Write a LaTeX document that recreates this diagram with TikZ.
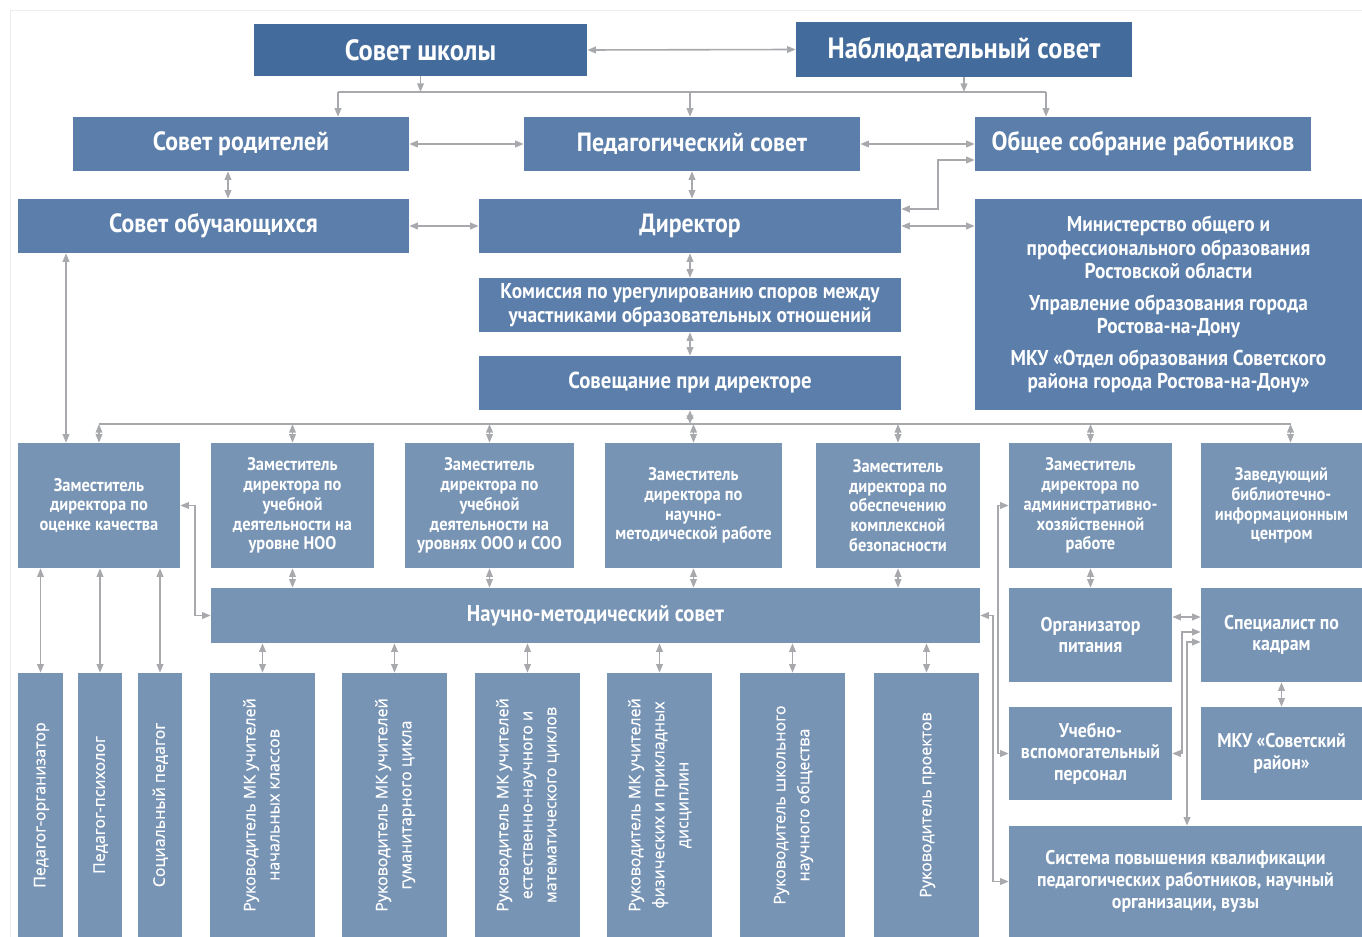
\documentclass[tikz,border=0pt]{standalone}
\usepackage{fontspec}
\setmainfont{PT Sans}[FakeStretch=0.9]
\newfontfamily\vertfont{Open Sans}[FakeBold=0.7]
\usepackage{tikz}
\usetikzlibrary{arrows.meta}
\definecolor{darkblue}{RGB}{67,107,156}
\definecolor{midblue}{RGB}{91,126,171}
\definecolor{lightblue}{RGB}{119,148,181}
\definecolor{linegray}{RGB}{167,169,172}
\tikzset{box/.style={fill=#1,inner sep=0pt,text=white,align=center},
         box/.default=midblue,
         topbox/.style={box=darkblue,font=\fontsize{22}{26}\selectfont\bfseries},
         mainbox/.style={box=midblue,font=\fontsize{19.8}{24}\selectfont\bfseries},
         subbox/.style={box=midblue,font=\fontsize{16.1}{17.6}\selectfont\bfseries},
         zambox/.style={box=lightblue,font=\fontsize{13.7}{14.9}\selectfont\bfseries},
         staffbox/.style={box=lightblue,font=\fontsize{14.9}{16.2}\selectfont\bfseries},
         vbox/.style={box=lightblue,font=\vertfont\fontsize{12}{18}\selectfont},
         link/.style={draw=linegray,line width=1.2pt}}
\newcommand\vlabel[1]{\rotatebox{90}{\begin{tabular}{@{}c@{}}#1\end{tabular}}}
\newcommand\orgbox[7][box]{\node[#1,minimum width={(#5-#3)*0.75pt},minimum height={(#6-#4)*0.75pt}] (#2) at ({(#3+#5)/2},{(#4+#6)/2}) {#7};}

\begin{document}
\begin{tikzpicture}[x=0.75pt,y=-0.75pt,>={Triangle[length=6.5pt,width=5pt]}]
\useasboundingbox (0,0) rectangle (1362,937);
\draw[black!7] (10,10) -- (1362,10) (10,10) -- (10,937);

\orgbox[topbox]{school}{254}{24}{587}{76}{Совет школы}
\orgbox[topbox]{watch}{796}{22}{1132}{77}{Наблюдательный совет}
\orgbox[mainbox]{parents}{73}{117}{409}{171}{Совет родителей}
\orgbox[mainbox]{ped}{524}{117}{860}{171}{Педагогический совет}
\orgbox[mainbox]{staff}{975}{117}{1311}{171}{Общее собрание работников}
\orgbox[mainbox]{pupils}{18}{199}{409}{253}{Совет обучающихся}
\orgbox[mainbox]{dir}{479}{199}{901}{253}{Директор}
\orgbox[subbox]{gov}{975}{199}{1362}{410}{Министерство общего и\\профессионального образования\\Ростовской области\\[6pt]Управление образования города\\Ростова-на-Дону\\[6pt]МКУ «Отдел образования Советского\\района города Ростова-на-Дону»}
\orgbox[subbox]{disp}{479}{278}{901}{332}{Комиссия по урегулированию споров между\\участниками образовательных отношений}
\orgbox[subbox,font=\fontsize{17.3}{20}\selectfont\bfseries]{meet}{479}{356}{901}{410}{Совещание при директоре}

\orgbox[zambox]{zq}{18}{443}{180}{568}{Заместитель\\директора по\\оценке качества}
\orgbox[zambox]{znoo}{211}{443}{374}{568}{Заместитель\\директора по\\учебной\\деятельности на\\уровне НОО}
\orgbox[zambox]{zooo}{405}{443}{574}{568}{Заместитель\\директора по\\учебной\\деятельности на\\уровнях ООО и СОО}
\orgbox[zambox]{zsci}{605}{443}{782}{568}{Заместитель\\директора по\\научно-\\методической работе}
\orgbox[zambox]{zsafe}{816}{443}{980}{568}{Заместитель\\директора по\\обеспечению\\комплексной\\безопасности}
\orgbox[zambox]{zahr}{1009}{443}{1172}{568}{Заместитель\\директора по\\административно-\\хозяйственной\\работе}
\orgbox[zambox]{zlib}{1201}{443}{1362}{568}{Заведующий\\библиотечно-\\информационным\\центром}

\orgbox[subbox,box=lightblue,font=\fontsize{17.2}{20}\selectfont\bfseries]{nms}{211}{588}{980}{643}{Научно-методический совет}
\orgbox[staffbox]{food}{1009}{588}{1172}{682}{Организатор\\питания}
\orgbox[staffbox]{hr}{1201}{588}{1362}{682}{Специалист по\\кадрам}
\orgbox[staffbox]{aux}{1009}{707}{1172}{800}{Учебно-\\вспомогательный\\персонал}
\orgbox[staffbox]{mku}{1201}{707}{1362}{800}{МКУ «Советский\\район»}
\orgbox[staffbox]{qual}{1009}{826}{1362}{937}{Система повышения квалификации\\педагогических работников, научный\\организации, вузы}

\orgbox[vbox]{porg}{18}{673}{63}{937}{\vlabel{Педагог-организатор}}
\orgbox[vbox]{psy}{78}{673}{122}{937}{\vlabel{Педагог-психолог}}
\orgbox[vbox]{soc}{138}{673}{182}{937}{\vlabel{Социальный педагог}}
\orgbox[vbox]{mk1}{210}{673}{315}{937}{\vlabel{Руководитель МК учителей\\начальных классов}}
\orgbox[vbox]{mk2}{342}{673}{447}{937}{\vlabel{Руководитель МК учителей\\гуманитарного цикла}}
\orgbox[vbox]{mk3}{475}{673}{580}{937}{\vlabel{Руководитель МК учителей\\естественно-научного и\\математического циклов}}
\orgbox[vbox]{mk4}{607}{673}{712}{937}{\vlabel{Руководитель МК учителей\\физических и прикладных\\дисциплин}}
\orgbox[vbox]{nso}{740}{673}{845}{937}{\vlabel{Руководитель школьного\\научного общества}}
\orgbox[vbox]{proj}{874}{673}{979}{937}{\vlabel{Руководитель проектов}}

\coordinate (topbus) at (690,92);
\coordinate (busL) at (338,92);
\coordinate (busR) at (1046,92);
\coordinate (bus) at (690,424);
\coordinate (c1) at (228,0);
\coordinate (c2) at (66,0);
\coordinate (k1) at (938,209);
\coordinate (k2) at (938,160);
\coordinate (k3) at (195,560);
\coordinate (k4) at (998,620);
\coordinate (k5) at (993,750);
\coordinate (k6) at (1182,632);
\coordinate (k7) at (1187,642);
\coordinate (k8) at (1187,617);

\draw[link,<->] (school.east) -- (watch.west);
\draw[link,->] (school.south) -- (school.south |- topbus);
\draw[link,->] (watch.south) -- (watch.south |- topbus);
\draw[link] (busL) -- (busR);
\draw[link,->] (busL) -- (busL |- parents.north);
\draw[link,->] (topbus) -- (topbus |- ped.north);
\draw[link,->] (busR) -- (busR |- staff.north);
\draw[link,<->] (parents.east) -- (ped.west);
\draw[link,<->] (ped.east) -- (staff.west);
\draw[link,<->] (parents.south -| c1) -- (pupils.north -| c1);
\draw[link,<->] (ped.south) -- (ped.south |- dir.north);
\draw[link,<->] (pupils.east) -- (dir.west);
\draw[link,<->] (dir.east |- k1) -- (k1) -- (k2) -- (staff.west |- k2);
\draw[link,<->] (dir.east) -- (dir.east -| gov.west);
\draw[link,<->] (dir.south) -- (dir.south |- disp.north);
\draw[link,<->] (disp.south) -- (disp.south |- meet.north);
\draw[link,<->] (meet.south) -- (meet.south |- bus);
\draw[link,<->] (pupils.south -| c2) -- (zq.north -| c2);

\draw[link] (zq.north |- bus) -- ([xshift=6.75pt]zlib.north |- bus);
\foreach \z in {zq,znoo,zooo,zsci,zsafe,zahr}
  \draw[link,<->] (\z.north |- bus) -- (\z.north);
\draw[link,<->] ([xshift=6.75pt]zlib.north |- bus) -- ([xshift=6.75pt]zlib.north);
\foreach \z in {znoo,zooo,zsci,zsafe}
  \draw[link,<->] (\z.south) -- (\z.south |- nms.north);
\foreach \r in {mk1,mk2,mk3,mk4,nso,proj}
  \draw[link,<->] (\r.north |- nms.south) -- (\r.north);
\foreach \p in {porg,psy,soc}
  \draw[link,<->] (\p.north |- zq.south) -- (\p.north);
\draw[link,<->] (zq.east) -| (k3) |- (nms.west);

\draw[link,<->] (zahr.south) -- (zahr.south |- food.north);
\draw[link,<->] (food.east |- k8) -- (hr.west |- k8);
\draw[link,<->] (hr.south) -- (hr.south |- mku.north);
\draw[link,<->] (zahr.west) -| (k4) |- (aux.west);
\draw[link,<->] (nms.east) -| (k5) |- (qual.west);
\draw[link,<->] (hr.west |- k6) -- (k6) |- (aux.east);
\draw[link,<->] (hr.west |- k7) -- (k7) -- (k7 |- qual.north);
\end{tikzpicture}
\end{document}
